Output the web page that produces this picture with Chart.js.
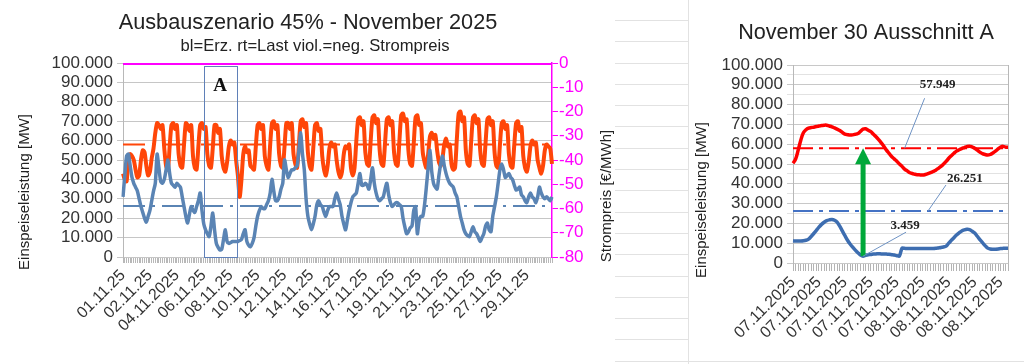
<!DOCTYPE html>
<html>
<head>
<meta charset="utf-8">
<script src="https://cdn.jsdelivr.net/npm/chart.js@4"></script>
<style>
  html, body { margin: 0; padding: 0; background: #fff; }
  body { width: 1024px; height: 364px; position: relative; overflow: hidden; }
  #wrapA { position: absolute; left: 0; top: 0; width: 615px; height: 364px; }
  #wrapB { position: absolute; left: 689px; top: 0; width: 335px; height: 350px; }
  .cells { position: absolute; left: 615px; top: 0; width: 73px; height: 364px;
    background: repeating-linear-gradient(to bottom, transparent 0, transparent 20px, #e2e2e2 20px, #e2e2e2 21px, transparent 21px, transparent 21.3px); }
  .vline { position: absolute; left: 688px; top: 0; width: 1px; height: 364px; background: #e2e2e2; }
  .hline { position: absolute; left: 688px; top: 361px; width: 336px; height: 1px; background: #e2e2e2; }
</style>
</head>
<body>
<div class="cells"></div>
<div class="vline"></div>
<div class="hline"></div>
<div id="wrapA"><canvas id="chartA" width="615" height="364"></canvas></div>
<div id="wrapB"><canvas id="chartB" width="335" height="350"></canvas></div>
<script>
// ---- Data: left chart, November 2025, 3-hour steps (thousand MW) ----
const lastA = [
  43, 40, 39, 50, 53, 52, 50, 45,   41, 42, 50, 55, 54, 47, 42, 44,
  51, 56, 64, 69, 68, 66, 68, 56,   47, 45, 57, 68, 69, 66, 68, 53,
  47, 46, 58, 69, 68, 65, 68, 52,   46, 45, 57, 68, 69, 66, 67, 53,
  47, 46, 56, 68, 68, 64, 66, 52,   46, 44, 49, 57, 60, 58, 59, 50,
  42, 31, 40, 53, 57, 54, 55, 47,   46, 45, 57, 68, 69, 66, 68, 52,
  47, 45, 58, 69, 70, 66, 68, 53,   47, 46, 57, 69, 69, 66, 69, 53,
  48, 46, 58, 70, 71, 67, 69, 54,   47, 45, 56, 68, 69, 65, 66, 52,
  45, 42, 47, 56, 59, 57, 58, 50,   44, 41, 44, 53, 57, 56, 58, 46,
  42, 46, 60, 71, 72, 68, 70, 54,   48, 47, 60, 72, 73, 69, 71, 55,
  48, 47, 59, 71, 72, 68, 70, 54,   48, 47, 60, 73, 74, 70, 71, 55,
  48, 47, 59, 72, 73, 68, 69, 54,   49, 46, 53, 62, 64, 61, 63, 55,
  49, 47, 51, 58, 61, 57, 58, 48,   45, 46, 61, 74, 75, 70, 72, 55,
  48, 47, 60, 72, 73, 69, 71, 55,   48, 47, 59, 71, 72, 68, 70, 54,
  47, 46, 58, 69, 70, 66, 68, 53,   47, 46, 58, 69, 70, 65, 67, 52,
  46, 44, 49, 57, 60, 58, 59, 50,   46, 43, 47, 55, 58, 57, 56, 48
];
const erzA = [
  31, 42, 52, 53, 47, 41, 38, 36,   34, 30, 26, 23, 20, 18, 21, 24,
  29, 34, 38, 53, 46, 39, 38, 40,   45, 50, 43, 38, 37, 36, 38, 37,
  36, 31, 26, 21, 17.5, 22, 26, 24, 23, 26, 29, 33, 24, 17, 14, 12,
  10.5, 16, 22.7, 14, 7, 5, 3.6, 4, 9, 14, 8, 7, 7.5, 8, 8, 8,
  8, 8.5, 9, 12, 14, 8, 6, 5.3,     7, 10, 16, 21, 24, 26, 25, 25,
  27, 29, 33, 40, 34, 29, 29, 31,   35, 38, 50, 45, 41, 43, 45, 45,
  46, 47, 55, 64, 53, 45, 30, 21,   17, 14, 17, 21, 27, 29, 27, 26,
  23, 21, 24, 26, 26, 26, 30, 33,   30, 27, 21, 17, 14, 19, 24, 28,
  31, 32, 33, 38, 43, 37, 37, 38,   37, 35, 40, 46, 38, 33, 30, 29,
  30, 31, 35, 38, 32, 28, 26, 27,   28, 28, 27, 26, 20, 15.6, 12, 13,
  15, 16, 24, 26, 12, 19, 21, 21,   27, 36, 46, 55, 44, 38, 36, 35,
  42, 48, 52, 47, 43, 40, 38, 37,   36, 33, 31, 26, 21, 17.5, 14, 12,
  11, 10.5, 13, 15.6, 13, 12, 10, 8, 10, 12, 16, 17.5, 14, 13, 21, 26,
  31, 38, 45, 48, 45, 41, 42, 43,   41, 40, 37, 34.5, 35, 36, 32, 31,
  29, 28, 31, 33, 31, 30, 28, 31,   36, 33, 31, 30, 31, 30, 29, 31
];
const priceA = [0, 0];            // Strompreis at first and last hour (€/MWh)
const avgLast = 57.949;           // monthly mean load
const avgErz = 26.251;            // monthly mean generation
const boxA = [45, 63.5, 98.5];    // section A: from index, to index, top value
const tickLabelsA = ['01.11.25', '02.11.25', '04.11.2025', '06.11.25', '08.11.25', '10.11.25',
  '12.11.25', '14.11.25', '16.11.25', '17.11.25', '19.11.25', '21.11.25', '23.11.25',
  '25.11.25', '27.11.25', '29.11.25'];

// ---- Data: right chart, section A, 30-minute steps (thousand MW) ----
const lastB = [
  50.4, 52.5, 57, 62, 65.8, 67.3, 68.1, 68.4, 68.6, 68.9, 69.2, 69.4, 69.6, 69.6, 69.2, 68.8,
  68.2, 67.6, 66.9, 66, 65.1, 64.8, 64.6, 64.7, 65, 65.4, 66.5, 67.6, 67.8, 67, 66.3, 65,
  63.8, 62.3, 60.7, 59, 57, 55.4, 53.8, 52.6, 51.4, 50, 48.8, 47.4, 46.5, 45.6, 45.2, 44.8,
  44.6, 44.5, 44.4, 44.7, 45.1, 45.6, 46.2, 46.9, 47.8, 48.8, 50, 51.3, 52.9, 54.2, 55.4, 56.5,
  57.2, 57.8, 58.3, 58.8, 59, 58.6, 58, 57, 56, 55.2, 54.8, 54.5, 54.8, 55.6, 56.5, 57.6,
  58.6, 58.9, 58.5, 58.4
];
const erzB = [
  11.2, 11.1, 11.1, 11.1, 11.2, 11.5, 12.1, 13.4, 14.9, 16.5, 18.1, 19.5, 20.6, 21.4, 21.8, 22,
  21.6, 20.6, 18.6, 16.2, 13.8, 11.5, 9.6, 8, 6.5, 5.2, 4, 3.459, 3.9, 4.2, 4.3, 4.5,
  4.6, 4.7, 4.6, 4.6, 4.5, 4.4, 4.2, 4, 3.7, 3.5, 7.5, 7.4, 7.3, 7.3, 7.3, 7.3,
  7.3, 7.3, 7.3, 7.3, 7.3, 7.3, 7.3, 7.4, 7.6, 7.8, 8.1, 8.5, 10, 11.4, 12.8, 14.1,
  15.2, 16.2, 16.7, 17, 16.9, 16.1, 15.1, 13.5, 11.8, 10.3, 8.8, 7.5, 7.1, 7, 7, 7.1,
  7.3, 7.4, 7.5, 7.5
];

const hoursA = [];
for (let i = 0; i < lastA.length; i++) {
  const d = Math.floor(i / 8) + 1, h = (i % 8) * 3;
  hoursA.push(String(d).padStart(2, '0') + '.11.2025 ' + String(h).padStart(2, '0') + ':00');
}
const hoursB = [];
for (let i = 0; i < lastB.length; i++) {
  const m = 60 + i * 30, d = 7 + Math.floor(m / 1440), hm = m % 1440;
  hoursB.push(String(d).padStart(2, '0') + '.11.2025 ' + String(Math.floor(hm / 60)).padStart(2, '0') + ':' + String(hm % 60).padStart(2, '0'));
}

const fmt = v => String(Math.round(v * 1000)).replace(/\B(?=(\d{3})+(?!\d))/g, '.');
const span = (labels, v) => [{ x: labels[0], y: v }, { x: labels[labels.length - 1], y: v }];

Chart.defaults.font.family = '"Liberation Sans", Arial, sans-serif';
Chart.defaults.color = '#333';

function drawRotated(ctx, text, x, y, font, color) {
  ctx.save();
  ctx.translate(x, y);
  ctx.rotate(-Math.PI / 2);
  ctx.font = font;
  ctx.fillStyle = color;
  ctx.textAlign = 'center';
  ctx.textBaseline = 'middle';
  ctx.fillText(text, 0, 0);
  ctx.restore();
}

// Left chart
const decorA = {
  id: 'decorA',
  afterDatasetsDraw(chart) {
    const { ctx, scales: { x, y } } = chart;
    const x0 = Math.round(x.getPixelForValue(boxA[0])) + 0.5;
    const x1 = Math.round(x.getPixelForValue(boxA[1])) + 0.5;
    const y0 = Math.round(y.getPixelForValue(boxA[2])) + 0.5;
    const y1 = Math.round(y.getPixelForValue(0)) + 0.5;
    ctx.save();
    ctx.strokeStyle = '#5f80b8';
    ctx.lineWidth = 1;
    ctx.strokeRect(x0, y0, x1 - x0, y1 - y0);
    ctx.fillStyle = '#111';
    ctx.font = 'bold 19px "Liberation Serif"';
    ctx.textAlign = 'center';
    ctx.textBaseline = 'middle';
    ctx.fillText('A', (x0 + x1) / 2 - 1, y.getPixelForValue(88));
    ctx.restore();
  },
  afterDraw(chart) {
    const ctx = chart.ctx;
    ctx.save();
    ctx.fillStyle = '#222';
    ctx.textAlign = 'center';
    ctx.textBaseline = 'middle';
    ctx.font = '21.7px "Liberation Sans"';
    ctx.fillText('Ausbauszenario 45% - November 2025', 308, 23);
    ctx.font = '16.6px "Liberation Sans"';
    ctx.fillText('bl=Erz. rt=Last viol.=neg. Strompreis', 315, 46);
    ctx.restore();
    drawRotated(ctx, 'Einspeiseleistung [MW]', 25, 192, '15px "Liberation Sans"', '#222');
    drawRotated(ctx, 'Strompreis [€/MWh]', 607, 196, '15px "Liberation Sans"', '#222');
  }
};

new Chart(document.getElementById('chartA'), {
  type: 'line',
  data: {
    labels: hoursA,
    datasets: [
      { data: span(hoursA, priceA[0]).map((p, i) => ({ x: p.x, y: priceA[i] })), yAxisID: 'y1',
        borderColor: '#ff00ff', borderWidth: 4, pointRadius: 0 },
      { data: erzA, borderColor: '#5a84b4', borderWidth: 3.5, pointRadius: 0, tension: 0.25 },
      { data: lastA, borderColor: '#ff4608', borderWidth: 4, pointRadius: 0, tension: 0.25 },
      { data: span(hoursA, avgErz), borderColor: '#5a84b4', borderWidth: 2, pointRadius: 0, borderDash: [22, 7, 3, 7] },
      { data: span(hoursA, avgLast), borderColor: '#ff4608', borderWidth: 2, pointRadius: 0, borderDash: [22, 7, 3, 7] }
    ]
  },
  options: {
    responsive: false,
    animation: false,
    layout: { padding: { top: 63, left: 0, right: 0, bottom: 0 } },
    plugins: { legend: { display: false }, tooltip: { enabled: false } },
    scales: {
      x: {
        offset: false,
        border: { display: false },
        grid: { drawOnChartArea: false, tickLength: 6, color: '#b8b8b8' },
        ticks: {
          autoSkip: false, minRotation: 45, maxRotation: 45, padding: 3,
          font: { size: 16 }, color: '#333',
          callback: (v, i) => (i % 15 === 0 ? tickLabelsA[i / 15] : '')
        },
        afterFit: s => { s.height = 107; }
      },
      y: {
        min: 0, max: 100,
        border: { color: '#b8b8b8' },
        grid: { color: '#c6c6c6', tickLength: 6 },
        ticks: { stepSize: 10, autoSkip: false, padding: 4, font: { size: 17 }, color: '#333', callback: v => fmt(v) },
        afterFit: s => { s.width = 123; }
      },
      y1: {
        position: 'right', min: -80, max: 0,
        border: { color: '#ff00ff', width: 1.5 },
        grid: { drawOnChartArea: false, color: '#ff00ff', tickLength: 6 },
        ticks: { stepSize: 10, autoSkip: false, padding: 1, font: { size: 17 }, color: '#ff00ff' },
        afterFit: s => { s.width = 63; }
      }
    }
  },
  plugins: [decorA]
});

// Right chart
const minErz = Math.min(...erzB);
const minIdx = erzB.indexOf(minErz);

const decorB = {
  id: 'decorB',
  afterDatasetsDraw(chart) {
    const { ctx, chartArea, scales: { x, y } } = chart;
    ctx.save();
    // plot right border
    ctx.strokeStyle = '#b8b8b8';
    ctx.lineWidth = 1;
    ctx.beginPath();
    ctx.moveTo(Math.round(chartArea.right) + 0.5, chartArea.top);
    ctx.lineTo(Math.round(chartArea.right) + 0.5, chartArea.bottom);
    ctx.stroke();

    // green arrow from minimum generation to mean load
    const ax = x.getPixelForValue(minIdx);
    const yBase = y.getPixelForValue(minErz);
    const yTip = y.getPixelForValue(avgLast);
    ctx.fillStyle = '#00a83a';
    ctx.fillRect(ax - 2.5, yTip + 14, 5, yBase - yTip - 14);
    ctx.beginPath();
    ctx.moveTo(ax, yTip);
    ctx.lineTo(ax - 8, yTip + 16);
    ctx.lineTo(ax + 8, yTip + 16);
    ctx.closePath();
    ctx.fill();

    // value callouts
    const callouts = [
      [43, avgLast, 20, -50, 33, -64],
      [52, avgErz, 18, -26, 37, -32],
      [minIdx, minErz, 43, -24, 42, -31]
    ];
    ctx.font = 'bold 13px "Liberation Serif"';
    ctx.textAlign = 'center';
    ctx.textBaseline = 'middle';
    callouts.forEach(([i, v, lx, ly, tx, ty]) => {
      const px = x.getPixelForValue(i), py = y.getPixelForValue(v);
      ctx.strokeStyle = '#6f93c4';
      ctx.lineWidth = 1;
      ctx.beginPath();
      ctx.moveTo(px, py);
      ctx.lineTo(px + lx, py + ly);
      ctx.stroke();
      ctx.fillStyle = '#222';
      ctx.fillText(fmt(v), px + tx, py + ty);
    });
    ctx.restore();
  },
  afterDraw(chart) {
    const ctx = chart.ctx;
    ctx.save();
    ctx.fillStyle = '#222';
    ctx.textAlign = 'center';
    ctx.textBaseline = 'middle';
    ctx.font = '21.6px "Liberation Sans"';
    ctx.fillText('November 30 Ausschnitt A', 177, 33);
    ctx.restore();
    drawRotated(ctx, 'Einspeiseleistung [MW]', 13, 200, '15px "Liberation Sans"', '#222');
  }
};

new Chart(document.getElementById('chartB'), {
  type: 'line',
  data: {
    labels: hoursB,
    datasets: [
      { data: lastB, borderColor: '#ff0000', borderWidth: 3.5, pointRadius: 0, tension: 0.4 },
      { data: erzB, borderColor: '#3d6db0', borderWidth: 3.5, pointRadius: 0, tension: 0.3 },
      { data: span(hoursB, avgLast), borderColor: '#ff0000', borderWidth: 2, pointRadius: 0, borderDash: [20, 6, 4, 6] },
      { data: span(hoursB, avgErz), borderColor: '#4472c4', borderWidth: 2, pointRadius: 0, borderDash: [20, 6, 4, 6] }
    ]
  },
  options: {
    responsive: false,
    animation: false,
    layout: { padding: { top: 65, left: 0, right: 9, bottom: 0 } },
    plugins: { legend: { display: false }, tooltip: { enabled: false } },
    scales: {
      x: {
        offset: false,
        border: { display: false },
        grid: { drawOnChartArea: false, tickLength: 8, color: '#b4b4b4' },
        ticks: {
          autoSkip: false, minRotation: 45, maxRotation: 45, padding: 2,
          font: { size: 16 }, color: '#333',
          callback: (v, i) => (i % 10 === 0 ? hoursB[i].slice(0, 10) : '')
        },
        afterFit: s => { s.height = 87; }
      },
      y: {
        min: 0, max: 100,
        border: { color: '#b8b8b8' },
        grid: { color: c => (c.tick && c.tick.value % 10 === 0 ? '#c8c8c8' : '#e2e2e2'), tickLength: 6 },
        ticks: { stepSize: 5, autoSkip: false, padding: 4, font: { size: 17 }, color: '#333',
          callback: v => (v % 10 === 0 ? fmt(v) : '') },
        afterFit: s => { s.width = 104; }
      }
    }
  },
  plugins: [decorB]
});
</script>
</body>
</html>
